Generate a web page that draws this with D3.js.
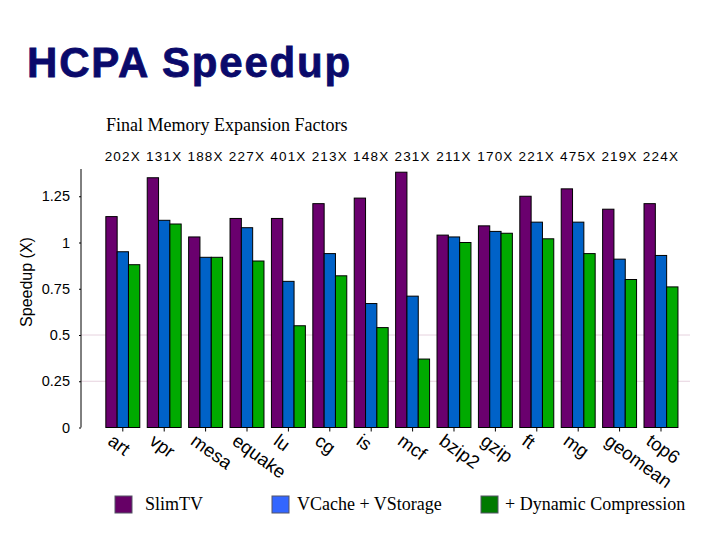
<!DOCTYPE html>
<html><head><meta charset="utf-8">
<script src="https://cdn.jsdelivr.net/npm/d3@7"></script>
<style>body{margin:0;background:#fff}svg{display:block}</style>
</head><body>
<script>
const categories = ["art","vpr","mesa","equake","lu","cg","is","mcf","bzip2","gzip","ft","mg","geomean","top6"];
const factors = ["202X","131X","188X","227X","401X","213X","148X","231X","211X","170X","221X","475X","219X","224X"];
const seriesNames = ["SlimTV","VCache + VStorage","+ Dynamic Compression"];
const slimTV   = [1.14,1.35,1.03,1.13,1.13,1.21,1.24,1.38,1.04,1.09,1.25,1.29,1.18,1.21];
const vcache   = [0.95,1.12,0.92,1.08,0.79,0.94,0.67,0.71,1.03,1.06,1.11,1.11,0.91,0.93];
const dynComp  = [0.88,1.10,0.92,0.90,0.55,0.82,0.54,0.37,1.00,1.05,1.02,0.94,0.80,0.76];
const yTicks = [0,0.25,0.5,0.75,1,1.25];
const gridTicks = [0.25,0.5];

const barColors = ["#6a006e","#0062c8","#00aa00"];
const legendColors = ["#660066","#3366ff","#007a00"];
const series = [slimTV, vcache, dynComp];

const W=720,H=540;
const svg=d3.select("body").append("svg").attr("width",W).attr("height",H);

svg.append("text").attr("x",27).attr("y",77)
  .attr("font-family","Arial, 'Liberation Sans', sans-serif").attr("font-weight","bold")
  .attr("font-size",42).attr("letter-spacing","1.8px").attr("fill","#0a0a6b")
  .attr("stroke","#0a0a6b").attr("stroke-width",0.8).text("HCPA Speedup");

svg.append("text").attr("x",106).attr("y",131)
  .attr("font-family","'Times New Roman','Liberation Serif',serif")
  .attr("font-size",18).attr("fill","#000").text("Final Memory Expansion Factors");

const axisX=81, y0=427.5;
const y=d3.scaleLinear().domain([0,1.25]).range([y0, y0-185*1.25]);
const x=d3.scaleBand().domain(categories).range([axisX, 702.8]).paddingInner(0.18).paddingOuter(0.6);
const xs=d3.scaleBand().domain([0,1,2]).range([0,x.bandwidth()]);

// grid
svg.append("g").selectAll("line").data(gridTicks).join("line")
  .attr("x1",axisX).attr("x2",690).attr("y1",d=>y(d)).attr("y2",d=>y(d))
  .attr("stroke","#e6d2de").attr("stroke-width",1);

// bars
const g=svg.append("g");
categories.forEach((c,i)=>{
  series.forEach((s,k)=>{
    g.append("rect").attr("x",x(c)+xs(k)).attr("y",y(s[i]))
      .attr("width",xs.bandwidth()).attr("height",y0-y(s[i]))
      .attr("fill",barColors[k]).attr("stroke","#000").attr("stroke-width",1);
  });
});

// y axis
const ya=d3.axisLeft(y).tickValues(yTicks).tickSize(2).tickFormat(d=>d3.format("")(d));
const yg=svg.append("g").attr("transform",`translate(${axisX},0)`).call(ya);
yg.select(".domain").attr("d",`M0,169V${y0}`).attr("stroke","#000");
yg.selectAll("text").attr("font-family","Arial, 'Liberation Sans', sans-serif").attr("font-size",14.5).attr("fill","#000").attr("dx",-6);

svg.append("text").attr("transform","translate(32,282) rotate(-90)").attr("text-anchor","middle")
  .attr("font-family","Arial, 'Liberation Sans', sans-serif").attr("font-size",16).text("Speedup (X)");

// x ticks
svg.append("g").selectAll("line").data(categories).join("line")
  .attr("x1",d=>x(d)+x.bandwidth()/2).attr("x2",d=>x(d)+x.bandwidth()/2)
  .attr("y1",y0).attr("y2",y0+4).attr("stroke","#000");

// x labels
svg.append("g").selectAll("text").data(categories).join("text")
  .attr("transform",d=>`translate(${x(d)+x.bandwidth()/2-16},${y0+16}) rotate(36)`)
  .attr("font-family","Arial, 'Liberation Sans', sans-serif").attr("font-size",18.5).text(d=>d);

// factor labels
svg.append("g").selectAll("text").data(categories).join("text")
  .attr("x",d=>x(d)+x.bandwidth()/2).attr("y",161).attr("text-anchor","middle")
  .attr("font-family","Arial, 'Liberation Sans', sans-serif").attr("font-size",13.5).attr("letter-spacing","1.2px")
  .text((d,i)=>factors[i]);

// legend
const legX=[115,272,481], legT=[145,297,505];
seriesNames.forEach((n,k)=>{
  svg.append("rect").attr("x",legX[k]).attr("y",496).attr("width",17).attr("height",17)
    .attr("fill",legendColors[k]).attr("stroke","#556").attr("stroke-width",1);
  svg.append("text").attr("x",legT[k]).attr("y",510)
    .attr("font-family","'Times New Roman','Liberation Serif',serif").attr("font-size",18).text(n);
});
</script>
</body></html>
